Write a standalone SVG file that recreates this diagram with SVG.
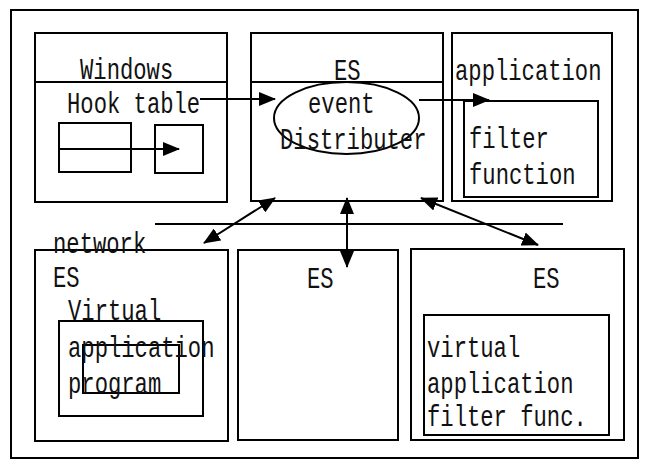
<svg xmlns="http://www.w3.org/2000/svg" width="646" height="464" viewBox="0 0 646 464">
<defs>
<style>
rect, ellipse { fill: none; stroke: #000; stroke-width: 2; }
.ln { stroke: #000; stroke-width: 2; fill: none; }
text { font-family: "Liberation Mono", "Courier New", monospace; font-size: 22.2px; fill: #111; }
</style>
<marker id="ah" markerUnits="userSpaceOnUse" markerWidth="17" markerHeight="14" viewBox="0 0 17 14" refX="16" refY="7" orient="auto-start-reverse">
<path d="M0,0 L17,7 L0,14 z" fill="#000"/>
</marker>
</defs>
<rect style="fill:#fff;stroke:none" x="0" y="0" width="646" height="464"/>
<g id="frame"><rect x="11" y="10" width="627" height="448"/></g>

<g id="windows">
<rect x="35" y="33" width="192" height="169"/>
<line class="ln" x1="35" y1="82" x2="227" y2="82"/>
<text transform="translate(80,79) scale(1,1.3)">Windows</text>
<text transform="translate(67,113) scale(1,1.3)">Hook table</text>
<rect x="59" y="123" width="72" height="49"/>
<rect x="155" y="125" width="48" height="48"/>
</g>

<g id="es-top">
<rect x="251" y="33" width="192" height="168"/>
<line class="ln" x1="251" y1="82" x2="443" y2="82"/>
<text transform="translate(334,80) scale(1,1.3)">ES</text>
</g>

<g id="event-distributer">
<ellipse cx="346.5" cy="118" rx="72.5" ry="36"/>
<text transform="translate(308,113) scale(1,1.3)">event</text>
<text transform="translate(280,149) scale(1,1.3)">Distributer</text>
</g>

<g id="application">
<rect x="452" y="33" width="160" height="168"/>
<text transform="translate(455,80) scale(1,1.3)">application</text>
</g>

<g id="filter-function">
<rect x="464" y="101" width="134" height="96"/>
<text transform="translate(469,148) scale(1,1.3)">filter</text>
<text transform="translate(469,184) scale(1,1.3)">function</text>
</g>

<g id="es-left">
<rect x="35" y="250" width="193" height="191"/>
<text transform="translate(53,253) scale(1,1.3)">network</text>
<text transform="translate(53,287) scale(1,1.3)">ES</text>
<text transform="translate(68,320) scale(1,1.3)">Virtual</text>
<rect x="59" y="321" width="144" height="95"/>
<rect x="83" y="345" width="96" height="48"/>
<text transform="translate(68,357) scale(1,1.3)">application</text>
<text transform="translate(68,393) scale(1,1.3)">program</text>
</g>

<g id="es-middle">
<rect x="238" y="250" width="160" height="190"/>
<text transform="translate(307,288) scale(1,1.3)">ES</text>
</g>

<g id="es-right">
<rect x="411" y="249" width="213" height="191"/>
<text transform="translate(533,288) scale(1,1.3)">ES</text>
</g>

<g id="virtual-filter">
<rect x="424" y="315" width="185" height="120"/>
<text transform="translate(427,357) scale(1,1.3)">virtual</text>
<text transform="translate(427,393) scale(1,1.3)">application</text>
<text transform="translate(427,426) scale(1,1.3)">filter func.</text>
</g>

<g id="connectors">
<line class="ln" x1="155" y1="224" x2="563" y2="224"/>
<line class="ln" x1="200" y1="99" x2="275" y2="99" marker-end="url(#ah)"/>
<line class="ln" x1="59" y1="149" x2="179" y2="149" marker-end="url(#ah)"/>
<line class="ln" x1="419" y1="100" x2="489" y2="100" marker-end="url(#ah)"/>
<line class="ln" x1="275" y1="198" x2="204" y2="243" marker-start="url(#ah)" marker-end="url(#ah)"/>
<line class="ln" x1="347" y1="198" x2="347" y2="267" marker-start="url(#ah)" marker-end="url(#ah)"/>
<line class="ln" x1="421" y1="198" x2="538" y2="245" marker-start="url(#ah)" marker-end="url(#ah)"/>
</g>
</svg>
